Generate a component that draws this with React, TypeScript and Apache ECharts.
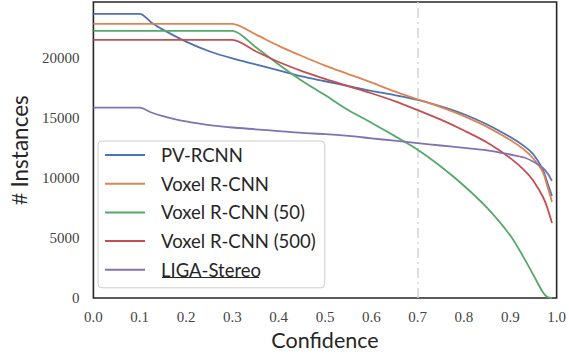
import React, { useEffect, useRef } from "react";
import * as echarts from "echarts";

const conf = [0, 0.1, 0.125, 0.15, 0.2, 0.25, 0.3, 0.35, 0.4, 0.45, 0.5, 0.55, 0.6, 0.65, 0.7, 0.75, 0.8, 0.85, 0.9, 0.93, 0.95, 0.97, 0.98, 0.99];
const pvRcnn = [23667, 23667, 22950, 22350, 21350, 20550, 19950, 19450, 18950, 18450, 18050, 17650, 17250, 16900, 16500, 15950, 15300, 14450, 13400, 12650, 11950, 10700, 9600, 8500];
const voxelRcnn = [22833, 22833, 22833, 22833, 22833, 22833, 22833, 21950, 21000, 20150, 19350, 18650, 17950, 17200, 16550, 15900, 15150, 14250, 13150, 12350, 11600, 10500, 9300, 8000];
const voxelRcnn50 = [22250, 22250, 22250, 22250, 22250, 22250, 22250, 20900, 19450, 18100, 16900, 15650, 14600, 13500, 12350, 10950, 9350, 7500, 5200, 3300, 1900, 500, 80, 0];
const voxelRcnn500 = [21500, 21500, 21500, 21500, 21500, 21500, 21500, 20550, 19650, 18900, 18250, 17650, 17050, 16400, 15650, 14850, 13950, 12950, 11650, 10650, 9750, 8450, 7500, 6250];
const ligaStereo = [15850, 15850, 15450, 15150, 14700, 14400, 14200, 14050, 13900, 13750, 13650, 13500, 13300, 13100, 12900, 12700, 12500, 12300, 11950, 11700, 11350, 10850, 10400, 9750];

const seriesNames = ["PV-RCNN", "Voxel R-CNN", "Voxel R-CNN (50)", "Voxel R-CNN (500)", "LIGA-Stereo"];
const seriesValues = [pvRcnn, voxelRcnn, voxelRcnn50, voxelRcnn500, ligaStereo];
const colors = ["#4c72b0", "#dd8452", "#55a868", "#c44e52", "#8172b3"];
const thresholdX = 0.7;

export default function App() {
  const ref = useRef<HTMLDivElement>(null);
  useEffect(() => {
    if (!ref.current) return;
    const chart = echarts.init(ref.current, null, { renderer: "svg" });
    const sans = "Lato, 'Open Sans', sans-serif";
    const serif = "'Liberation Serif', 'DejaVu Serif', serif";
    const series: any[] = seriesNames.map((name, i) => ({
      name,
      type: "line",
      data: conf.map((c, j) => [c, seriesValues[i][j]]),
      showSymbol: false,
      smooth: 0.3,
      lineStyle: { color: colors[i], width: 1.8 },
      itemStyle: { color: colors[i] },
      z: 3 + i,
    }));
    series[0].markLine = {
      silent: true,
      symbol: "none",
      label: { show: false },
      lineStyle: { color: "#d6d6d6", width: 1.6, type: [10, 4, 2, 4] },
      data: [{ xAxis: thresholdX }],
      z: 1,
    };
    chart.setOption({
      animation: false,
      color: colors,
      grid: {
        left: 88,
        right: 10,
        top: 2,
        bottom: 58,
        show: true,
        borderColor: "#262626",
        borderWidth: 1.6,
        backgroundColor: "#ffffff",
      },
      xAxis: {
        type: "value",
        min: 0,
        max: 1,
        interval: 0.1,
        axisLine: { show: false },
        axisTick: { show: false },
        splitLine: { show: false },
        axisLabel: {
          formatter: (v: number) => v.toFixed(1),
          fontFamily: serif,
          fontSize: 15,
          color: "#444",
          margin: 11,
        },
        name: "Confidence",
        nameLocation: "middle",
        nameGap: 31,
        nameTextStyle: { fontFamily: sans, fontSize: 21.5, color: "#262626" },
      },
      yAxis: {
        type: "value",
        min: 0,
        max: 24650,
        interval: 5000,
        axisLine: { show: false },
        axisTick: { show: false },
        splitLine: { show: false },
        axisLabel: {
          formatter: (v: number) => String(v),
          fontFamily: serif,
          fontSize: 15,
          color: "#444",
          margin: 14,
          showMaxLabel: false,
        },
        name: "{h|#} Instances",
        nameLocation: "middle",
        nameGap: 60,
        nameRotate: 90,
        nameTextStyle: {
          fontFamily: sans,
          fontSize: 22.5,
          color: "#262626",
          rich: { h: { fontFamily: serif, fontSize: 23, color: "#262626" } },
        },
      },
      legend: {
        orient: "vertical",
        left: 98,
        top: 141,
        padding: [4, 9, 8, 7],
        itemGap: 8.7,
        itemWidth: 40,
        itemHeight: 2,
        icon: "rect",
        backgroundColor: "rgba(255,255,255,0.8)",
        borderColor: "#cccccc",
        borderWidth: 1,
        borderRadius: 4,
        textStyle: {
          fontFamily: sans,
          fontSize: 18.5,
          color: "#262626",
          lineHeight: 20,
          padding: [0, 0, 0, 11],
        },
        data: seriesNames,
      },
      graphic: [
        {
          type: "line",
          shape: { x1: 162, y1: 277.5, x2: 259, y2: 277.5 },
          style: { stroke: "#262626", lineWidth: 1 },
          z: 100,
        },
      ],
      series,
    });
    return () => chart.dispose();
  }, []);
  return (
    <div
      ref={ref}
      style={{ position: "fixed", left: 0, top: 0, width: 569, height: 356, background: "#fff" }}
    />
  );
}
